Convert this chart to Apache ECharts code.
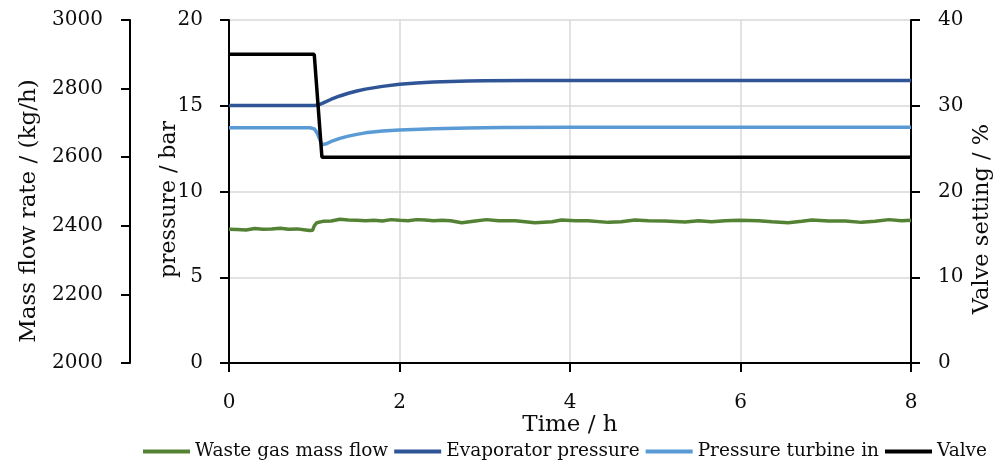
<!DOCTYPE html>
<html>
<head>
<meta charset="utf-8">
<script src="https://cdn.jsdelivr.net/npm/echarts@6/dist/echarts.min.js"></script>
<style>
  html, body { margin: 0; padding: 0; background: #ffffff; }
  #chart { width: 1006px; height: 464px; }
</style>
</head>
<body>
<div id="chart"></div>
<script>
// ---- data ----
const seriesNames = ['Waste gas mass flow', 'Evaporator pressure', 'Pressure turbine in', 'Valve'];

// Waste gas mass flow (kg/h), left outer axis
const flowTime = [0, 0.1, 0.2, 0.3, 0.4, 0.5, 0.6, 0.7, 0.8, 0.9, 0.95, 0.98, 1.0, 1.03, 1.1, 1.2, 1.3, 1.4, 1.5, 1.6, 1.7, 1.8, 1.9, 2.0, 2.1, 2.2, 2.3, 2.4, 2.5, 2.6, 2.73, 2.89, 3.02, 3.16, 3.36, 3.59, 3.79, 3.9, 4.06, 4.21, 4.45, 4.6, 4.76, 4.92, 5.11, 5.35, 5.51, 5.66, 5.82, 5.98, 6.21, 6.37, 6.56, 6.72, 6.84, 7.03, 7.23, 7.42, 7.58, 7.74, 7.89, 8.0];
const flowValues = [2390, 2389, 2388, 2392, 2390, 2391, 2393, 2390, 2391, 2388, 2386, 2387, 2400, 2409, 2413, 2414, 2419, 2417, 2416, 2415, 2416, 2414, 2418, 2416, 2415, 2418, 2417, 2415, 2416, 2415, 2409, 2414, 2418, 2415, 2415, 2409, 2412, 2417, 2415, 2415, 2410, 2412, 2417, 2415, 2414, 2411, 2415, 2412, 2415, 2416, 2415, 2412, 2409, 2413, 2417, 2414, 2414, 2410, 2413, 2418, 2415, 2416];

// Evaporator pressure (bar)
const evapTime = [0, 1.0, 1.05, 1.1, 1.2, 1.3, 1.4, 1.5, 1.6, 1.8, 2.0, 2.2, 2.4, 2.6, 2.8, 3.0, 3.5, 4.0, 5.0, 6.0, 7.0, 8.0];
const evapValues = [15.02, 15.02, 15.05, 15.15, 15.38, 15.57, 15.73, 15.86, 15.97, 16.13, 16.25, 16.32, 16.38, 16.42, 16.44, 16.46, 16.47, 16.47, 16.47, 16.47, 16.47, 16.47];

// Pressure turbine in (bar)
const turbTime = [0, 0.95, 1.0, 1.03, 1.06, 1.09, 1.1, 1.15, 1.2, 1.3, 1.4, 1.5, 1.6, 1.8, 2.0, 2.4, 2.8, 3.2, 4.0, 5.0, 6.0, 7.0, 8.0];
const turbValues = [13.72, 13.72, 13.65, 13.45, 13.1, 12.72, 12.68, 12.8, 12.92, 13.1, 13.23, 13.33, 13.42, 13.53, 13.59, 13.66, 13.7, 13.73, 13.74, 13.74, 13.74, 13.74, 13.74];

// Valve setting (%)
const valveTime = [0, 1.0, 1.09, 8.0];
const valveValues = [36, 36, 24, 24];

// axis ranges / ticks
const xTicks = [0, 2, 4, 6, 8];
const pressureTicks = [0, 5, 10, 15, 20];
const flowTicks = [2000, 2200, 2400, 2600, 2800, 3000];
const valveTicks = [0, 10, 20, 30, 40];

const colors = ['#548235', '#2F5597', '#5B9BD5', '#000000'];

function zip(t, v) { return t.map((x, i) => [x, v[i]]); }

const FONT = 'DejaVu Serif';
const TXT = '#0d0d0d';

const chart = echarts.init(document.getElementById('chart'), null, { renderer: 'canvas' });

const lineStyleAxis = { show: true, onZero: false, lineStyle: { color: '#000', width: 2 } };
const tickStyle = { show: true, inside: false, length: 9, lineStyle: { color: '#000', width: 2 } };
function labelStyle(margin) {
  return { margin: margin, fontFamily: FONT, fontSize: 20, color: TXT, formatter: v => String(v) };
}
function nameStyle(size, padRight) {
  return { fontFamily: FONT, fontSize: size, color: TXT, padding: [0, padRight, 0, 0] };
}

const option = {
  animation: false,
  backgroundColor: '#ffffff',
  color: colors,
  grid: { left: 229, right: 95, top: 20, bottom: 101, containLabel: false },
  legend: {
    data: seriesNames,
    left: 143,
    top: 442,
    padding: 0,
    icon: 'rect',
    itemWidth: 47,
    itemHeight: 4,
    itemGap: 6,
    textStyle: { fontFamily: FONT, fontSize: 18.5, color: TXT }
  },
  xAxis: {
    type: 'value',
    min: xTicks[0],
    max: xTicks[xTicks.length - 1],
    interval: xTicks[1] - xTicks[0],
    name: 'Time / h',
    nameLocation: 'middle',
    nameGap: 51,
    nameMoveOverlap: false,
    nameTextStyle: { fontFamily: FONT, fontSize: 23, color: TXT },
    axisLine: lineStyleAxis,
    axisTick: tickStyle,
    axisLabel: labelStyle(30),
    splitLine: { show: true, lineStyle: { color: '#d9d9d9', width: 1.5 } }
  },
  yAxis: [
    {
      type: 'value',
      position: 'left',
      min: pressureTicks[0],
      max: pressureTicks[pressureTicks.length - 1],
      interval: pressureTicks[1] - pressureTicks[0],
      name: 'pressure / bar',
      nameLocation: 'middle',
      nameRotate: 90,
      nameGap: 49,
      nameMoveOverlap: false,
      nameTextStyle: nameStyle(22, 16),
      axisLine: lineStyleAxis,
      axisTick: tickStyle,
      axisLabel: labelStyle(26),
      splitLine: { show: true, lineStyle: { color: '#d9d9d9', width: 1.5 } }
    },
    {
      type: 'value',
      position: 'left',
      offset: 99,
      min: flowTicks[0],
      max: flowTicks[flowTicks.length - 1],
      interval: flowTicks[1] - flowTicks[0],
      name: 'Mass flow rate / (kg/h)',
      nameLocation: 'middle',
      nameRotate: 90,
      nameGap: 89,
      nameMoveOverlap: false,
      nameTextStyle: nameStyle(23, 39),
      axisLine: lineStyleAxis,
      axisTick: tickStyle,
      axisLabel: labelStyle(27),
      splitLine: { show: false }
    },
    {
      type: 'value',
      position: 'right',
      min: valveTicks[0],
      max: valveTicks[valveTicks.length - 1],
      interval: valveTicks[1] - valveTicks[0],
      name: 'Valve setting / %',
      nameLocation: 'middle',
      nameRotate: 90,
      nameGap: 60,
      nameMoveOverlap: false,
      nameTextStyle: nameStyle(22.5, 55),
      axisLine: lineStyleAxis,
      axisTick: tickStyle,
      axisLabel: labelStyle(27),
      splitLine: { show: false }
    }
  ],
  series: [
    {
      name: seriesNames[0], type: 'line', yAxisIndex: 1, showSymbol: false,
      data: zip(flowTime, flowValues),
      lineStyle: { width: 3.5, color: colors[0] }, itemStyle: { color: colors[0] }, z: 2
    },
    {
      name: seriesNames[1], type: 'line', yAxisIndex: 0, showSymbol: false,
      data: zip(evapTime, evapValues),
      lineStyle: { width: 3.5, color: colors[1] }, itemStyle: { color: colors[1] }, z: 3
    },
    {
      name: seriesNames[2], type: 'line', yAxisIndex: 0, showSymbol: false,
      data: zip(turbTime, turbValues),
      lineStyle: { width: 3.5, color: colors[2] }, itemStyle: { color: colors[2] }, z: 4
    },
    {
      name: seriesNames[3], type: 'line', yAxisIndex: 2, showSymbol: false,
      data: zip(valveTime, valveValues),
      lineStyle: { width: 3.5, color: colors[3] }, itemStyle: { color: colors[3] }, z: 5
    }
  ]
};

chart.setOption(option);
</script>
</body>
</html>
